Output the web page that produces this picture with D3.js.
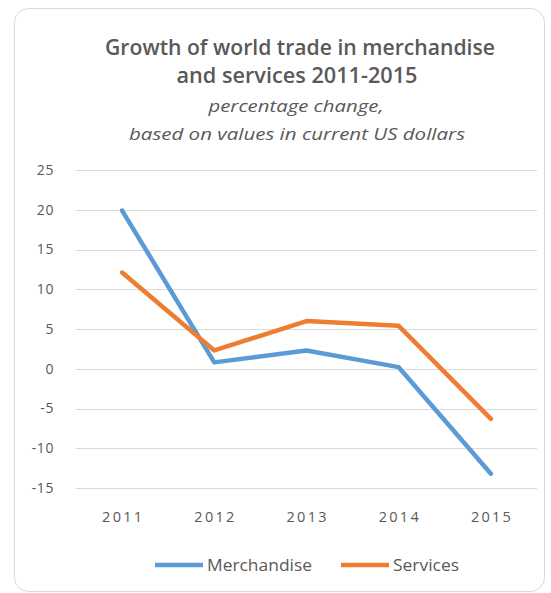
<!DOCTYPE html>
<html><head><meta charset="utf-8">
<script src="https://cdn.jsdelivr.net/npm/d3@7"></script>
<style>body{margin:0;background:#fff}svg{display:block}</style>
</head><body>
<script>
const years = ["2011","2012","2013","2014","2015"];
const merchandise = [19.9, 0.8, 2.3, 0.2, -13.2];
const services = [12.1, 2.3, 6.0, 5.4, -6.3];
const yTicks = [-15,-10,-5,0,5,10,15,20,25];
const seriesNames = ["Merchandise","Services"];
const colors = ["#5b9bd5","#ed7d31"];

const W=551,H=593;
const svg=d3.select("body").append("svg").attr("width",W).attr("height",H);
svg.append("rect").attr("x",14.5).attr("y",8.5).attr("width",530).attr("height",583).attr("rx",14)
  .attr("fill","#fff").attr("stroke","#d9d9d9");

const font="'Open Sans', sans-serif";
const tc="#595959";
const title=svg.append("g").attr("font-family",font).attr("fill",tc).attr("text-anchor","middle");
const tl=[
  {t:"Growth of world trade in merchandise",x:300,y:55,s:21,w:600,it:false,len:390},
  {t:"and services 2011-2015",x:297,y:83,s:21,w:600,it:false,len:241},
  {t:"percentage change,",x:296,y:112,s:16,w:400,it:true,len:175},
  {t:"based on values in current US dollars",x:297,y:140,s:16,w:400,it:true,len:336}
];
tl.forEach(d=>{
  title.append("text").attr("x",d.x).attr("y",d.y).attr("font-size",d.s).attr("font-weight",d.w)
    .attr("font-style",d.it?"italic":"normal").attr("textLength",d.len).attr("lengthAdjust","spacingAndGlyphs").text(d.t);
});

const x=d3.scaleBand().domain(years).range([76,537]);
const y=d3.scaleLinear().domain([-15,25]).range([488,170]);

const grid=svg.append("g");
grid.selectAll("line").data(yTicks).join("line")
  .attr("x1",76).attr("x2",537).attr("y1",d=>Math.round(y(d))+0.5).attr("y2",d=>Math.round(y(d))+0.5)
  .attr("stroke","#d9d9d9").attr("stroke-width",1);

const yAxis=svg.append("g").attr("transform","translate(54,0)")
  .call(d3.axisLeft(y).tickValues(yTicks).tickSize(0).tickPadding(0).tickFormat(d=>String(d)));
yAxis.select(".domain").remove();
yAxis.selectAll("text").attr("font-family",font).attr("font-size",14).attr("fill",tc).attr("letter-spacing",0.6);

const xAxis=svg.append("g").attr("transform","translate(0,522)")
  .call(d3.axisBottom(x).tickSize(0).tickPadding(0));
xAxis.select(".domain").remove();
xAxis.selectAll("text").attr("font-family",font).attr("font-size",14.5).attr("fill",tc).attr("dy",0)
  .attr("textLength",40).attr("lengthAdjust","spacing");

const line=d3.line().x((d,i)=>x(years[i])+x.bandwidth()/2).y(d=>y(d));
[merchandise,services].forEach((s,i)=>{
  svg.append("path").attr("d",line(s)).attr("fill","none").attr("stroke",colors[i])
    .attr("stroke-width",4.5).attr("stroke-linejoin","round").attr("stroke-linecap","round");
});

const leg=[{x:155,name:seriesNames[0],c:colors[0],len:105},{x:341,name:seriesNames[1],c:colors[1],len:66}];
leg.forEach(l=>{
  svg.append("line").attr("x1",l.x).attr("x2",l.x+48).attr("y1",565).attr("y2",565).attr("stroke",l.c).attr("stroke-width",4.5);
  svg.append("text").attr("x",l.x+52).attr("y",571).attr("font-family",font).attr("font-size",15.5).attr("fill",tc)
    .attr("textLength",l.len).attr("lengthAdjust","spacingAndGlyphs").text(l.name);
});
</script>
</body></html>
